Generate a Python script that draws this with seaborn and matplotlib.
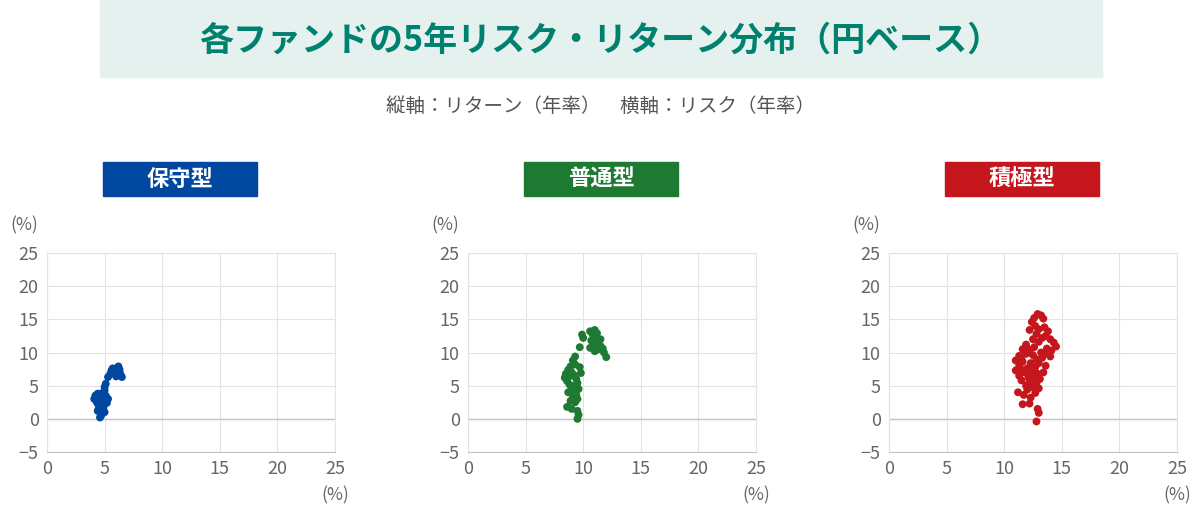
import pandas as pd
import seaborn as sns
import matplotlib.pyplot as plt
from matplotlib.patches import Rectangle

# Data (risk %, return %)
cons_risk = [5.3, 5.5, 5.6, 5.8, 6.0, 6.2, 6.3, 6.1, 6.4, 6.5, 6.0, 5.8, 6.3, 5.7,
             5.1, 5.0, 5.0, 4.9, 4.4, 4.2, 4.1, 4.3, 4.5, 4.7, 4.8, 5.0, 5.3, 5.2,
             4.9, 4.6, 4.5, 4.4, 4.6, 4.8, 5.0, 4.7, 4.6, 4.5, 4.7, 4.3, 4.8, 5.1,
             4.9, 4.4]
cons_ret = [6.3, 6.8, 7.3, 7.5, 7.6, 7.9, 7.4, 6.9, 6.6, 6.3, 6.4, 7.0, 7.0, 7.6,
            5.3, 4.8, 4.3, 3.9, 3.8, 3.5, 3.0, 2.6, 2.9, 3.3, 3.0, 2.8, 3.0, 2.4,
            2.2, 2.0, 1.6, 1.2, 1.0, 1.2, 1.0, 0.5, 0.2, 3.6, 3.8, 3.2, 2.6, 3.5,
            1.7, 2.3]

mid_risk = [10.6, 10.8, 11.0, 11.2, 11.0, 10.7, 10.9, 11.3, 11.5, 11.7, 11.8, 12.0,
            11.2, 11.5, 10.6, 11.0, 9.9, 9.7, 10.0,
            9.3, 9.1, 9.3, 8.7, 8.5, 8.4, 8.6, 8.8, 9.0, 9.2, 9.4, 9.5, 9.3, 9.0,
            8.8, 9.2, 9.4, 9.1, 8.9, 9.3, 9.5, 8.6, 9.0, 9.5, 9.6, 9.5, 9.7, 9.8,
            8.7, 9.6, 8.9]
mid_ret = [13.2, 12.8, 13.4, 12.9, 12.2, 11.8, 11.3, 11.6, 11.0, 10.6, 10.0, 9.3,
           10.4, 12.0, 10.7, 10.2, 12.7, 10.8, 12.2,
           9.4, 8.8, 8.2, 7.4, 6.8, 6.2, 5.7, 6.4, 7.0, 6.6, 6.0, 5.4, 5.0, 4.6,
           5.2, 4.2, 3.6, 3.2, 2.7, 2.5, 3.0, 1.8, 1.5, 1.2, 0.6, 0.0, 7.8, 6.9,
           4.0, 4.5, 7.9]

agg_risk = [12.9, 13.2, 13.4, 12.6, 12.4, 12.7, 13.0, 13.5, 13.8, 13.6, 14.0, 14.3,
            14.5, 14.1, 12.2, 12.8, 13.3, 13.0, 12.5,
            11.9, 11.6, 11.3, 11.0, 11.3, 11.6, 11.9, 12.2, 12.5, 12.8, 12.3, 12.0,
            11.8, 12.4, 12.7, 13.0, 13.3, 13.5, 13.7, 13.2, 12.9, 12.6, 12.2, 11.9,
            11.5, 11.3, 12.0, 12.4, 12.8, 13.1, 13.4, 13.0, 12.7, 12.3, 11.7, 11.2,
            11.6, 12.2, 12.9, 13.0, 12.8, 11.5, 11.0, 13.6, 14.0, 12.1, 12.6, 11.4]
agg_ret = [15.8, 15.6, 15.1, 15.2, 14.6, 14.0, 13.5, 13.8, 13.2, 12.5, 12.0, 11.5,
           10.9, 10.3, 13.4, 12.8, 12.2, 11.6, 12.0,
           11.2, 10.5, 9.5, 8.8, 8.0, 8.6, 9.8, 10.4, 9.6, 9.0, 8.4, 7.6,
           7.0, 7.2, 7.8, 8.4, 9.2, 9.8, 10.6, 10.0, 6.8, 6.2, 5.6, 5.0,
           5.8, 6.5, 4.4, 4.8, 5.4, 6.0, 7.0, 4.6, 3.9, 3.2, 3.6, 4.0,
           2.2, 2.3, 1.5, 0.9, -0.4, 9.0, 7.3, 8.0, 9.4, 6.3, 10.8, 7.6]

panel_names = ["保守型", "普通型", "積極型"]
panel_colors = ["#0047a0", "#1e7a32", "#c4161c"]
ticks_x = [0, 5, 10, 15, 20, 25]
ticks_y = [-5, 0, 5, 10, 15, 20, 25]

title = "各ファンドの5年リスク・リターン分布（円ベース）"
subtitle = "縦軸：リターン（年率）　横軸：リスク（年率）"

sns.set_style("white")
plt.rcParams['font.family'] = ['Noto Sans CJK JP', 'DejaVu Sans']

fig = plt.figure(figsize=(12, 5.12), dpi=100)

# header box
fig.patches.append(Rectangle((100 / 1200, 1 - 77 / 512), 1002 / 1200, 77 / 512,
                             transform=fig.transFigure, color="#e4f1ef", zorder=0))
fig.text(0.5, 1 - 40 / 512, title, ha="center", va="center", fontsize=24.5,
         fontweight="bold", color="#00806e")
fig.text(0.5, 1 - 106 / 512, subtitle, ha="center", va="center", fontsize=14,
         color="#555555")

datasets = [(cons_risk, cons_ret), (mid_risk, mid_ret), (agg_risk, agg_ret)]
lefts = [47, 468, 889]
label_lefts = [103, 524, 945]

for i, (risk, ret) in enumerate(datasets):
    ax = fig.add_axes([lefts[i] / 1200, 1 - 452 / 512, 288 / 1200, 199 / 512])
    df = pd.DataFrame({"risk": risk, "ret": ret})
    sns.scatterplot(data=df, x="risk", y="ret", ax=ax, color=panel_colors[i],
                    s=32, edgecolor="none", zorder=3)
    ax.set_xlim(0, 25)
    ax.set_ylim(-5, 25)
    ax.set_xticks(ticks_x)
    ax.set_yticks(ticks_y)
    ax.set_xlabel("")
    ax.set_ylabel("")
    ax.grid(True, color="#e3e3e3", lw=0.8)
    ax.axhline(0, color="#c4c4c4", lw=1, zorder=2)
    for sp in ax.spines.values():
        sp.set_color("#e3e3e3")
        sp.set_linewidth(0.8)
    ax.spines["bottom"].set_color("#c4c4c4")
    ax.tick_params(axis="both", length=0, labelsize=13, labelcolor="#666666", pad=6)
    ax.text(-0.08, 1.14, "(%)", transform=ax.transAxes, ha="center", va="center",
            fontsize=12.5, color="#666666")
    ax.text(1.0, -0.22, "(%)", transform=ax.transAxes, ha="center", va="center",
            fontsize=12.5, color="#666666")

    # panel label box
    fig.patches.append(Rectangle((label_lefts[i] / 1200, 1 - 196 / 512), 154 / 1200, 34 / 512,
                                 transform=fig.transFigure, color=panel_colors[i]))
    fig.text((label_lefts[i] + 77) / 1200, 1 - 179 / 512, panel_names[i], ha="center",
             va="center", fontsize=16, fontweight="bold", color="white")

fig.savefig("out.png", dpi=100)
